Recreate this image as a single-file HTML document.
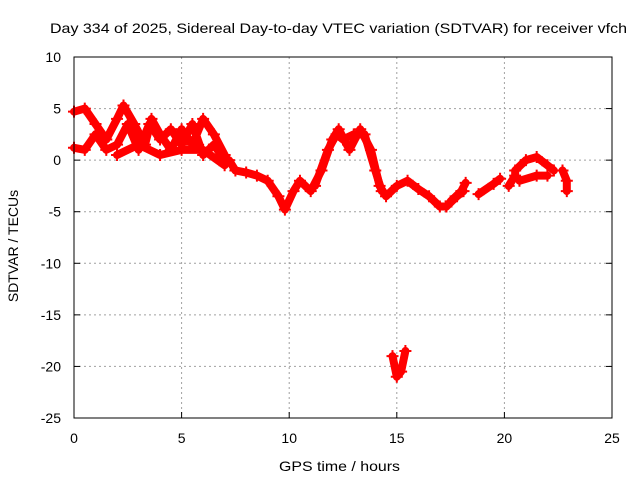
<!DOCTYPE html>
<html><head><meta charset="utf-8"><style>
body{margin:0;background:#fff}
svg{font-family:"Liberation Sans",sans-serif;font-size:14px}
</style></head><body>
<svg id="chart" width="640" height="480" viewBox="0 0 640 480">
<rect width="640" height="480" fill="#fff"/>
<text x="50" y="33" textLength="577" lengthAdjust="spacingAndGlyphs">Day 334 of 2025, Sidereal Day-to-day VTEC variation (SDTVAR) for receiver vfch</text>
<g id="grid"></g>
<g id="ticks"></g>
<g id="series"></g>
<rect x="74" y="57" width="538" height="361" fill="none" stroke="#000" stroke-width="1"/>
<text x="279" y="471" textLength="121" lengthAdjust="spacingAndGlyphs">GPS time / hours</text>
<text transform="translate(18,246) rotate(-90)" text-anchor="middle">SDTVAR / TECUs</text>
</svg>
<script>
const xTicks=[0,5,10,15,20,25];
const yTicks=[10,5,0,-5,-10,-15,-20,-25];
const trackA=[[0,4.7],[0.5,5],[1,3.5],[1.5,2],[2,4],[2.3,5.3],[2.8,3.5],[3.3,1.5],[3.6,4],[4,2.5],[4.5,1],[5,3],[5.5,1.5],[6,4],[6.5,2.5],[7,0.5]];
const trackB=[[0,1.2],[0.5,1],[1,2.5],[1.5,1],[2,1.5],[2.5,3.5],[3,1],[3.5,3.5],[4,2],[4.5,3],[5,1.5],[5.5,3.5],[6,0.5],[6.5,1.5],[7,0]];
const trackC=[[2,0.5],[3,1.5],[4,0.5],[5,1],[6,1],[7,-0.5]];
const trackMain=[[7.2,0],[7.5,-1],[8,-1.2],[8.5,-1.5],[9,-2],[9.5,-3.5],[9.8,-4.8],[10.2,-3],[10.5,-2],[11,-3],[11.5,-1],[12,2],[12.3,3],[12.8,1],[13.3,3],[13.8,1],[14.2,-2.5],[14.5,-3.5],[15,-2.5],[15.5,-2],[16,-2.8],[16.5,-3.5],[17,-4.5],[17.3,-4.5]];
const trackMain2=[[11.2,-2.5],[11.8,1],[12.2,2.5],[12.5,2],[13,2.5],[13.5,2.5],[14,-1],[14.3,-3]];
const trackLate1=[[17.5,-4],[18,-3],[18.2,-2.2]];
const trackLate2=[[17.3,-4.5],[17.8,-3.5],[18.1,-3]];
const trackLate3=[[18.8,-3.3],[19.5,-2.3],[19.8,-1.8]];
const trackLate4=[[20.2,-2.5],[20.5,-1.5],[20.5,-1],[21,0],[21.5,0.3],[22,-0.5],[22.3,-1]];
const trackLate5=[[20.7,-2],[21.5,-1.5],[22,-1.5]];
const trackLate6=[[22.7,-1],[22.9,-2],[22.9,-3]];
const trackDip=[[14.8,-19],[15,-21],[15.2,-20.5],[15.4,-18.5]];
const tracks=[trackA,trackB,trackC,trackMain,trackMain2,trackLate1,trackLate2,trackLate3,trackLate4,trackLate5,trackLate6,trackDip];
const NS="http://www.w3.org/2000/svg";
const X=h=>74+h*538/25, Y=v=>57+(10-v)*361/35;
const grid=document.getElementById('grid'),ticks=document.getElementById('ticks'),ser=document.getElementById('series');
function mk(tag,attrs,parent){const e=document.createElementNS(NS,tag);for(const k in attrs)e.setAttribute(k,attrs[k]);parent.appendChild(e);return e;}
xTicks.forEach(t=>{
 if(t>0&&t<25){const g=mk('line',{x1:X(t),x2:X(t),y1:57,y2:418,stroke:'#a0a0a0','stroke-dasharray':'2,3'},grid);
 
 }
 const tl=mk('line',{x1:X(t),x2:X(t),y1:418,y2:412,stroke:'#000'},ticks);
 
 
 const tx=mk('text',{x:X(t),y:443,'text-anchor':'middle'},ticks);tx.textContent=t;
 
 
});
yTicks.forEach(t=>{
 if(t<10&&t>-25){const g=mk('line',{x1:74,x2:612,y1:Y(t),y2:Y(t),stroke:'#a0a0a0','stroke-dasharray':'2,3'},grid);
 
 }
 const tl=mk('line',{x1:74,x2:80,y1:Y(t),y2:Y(t),stroke:'#000'},ticks);
 
 
 const tr=mk('line',{x1:606,x2:612,y1:Y(t),y2:Y(t),stroke:'#000'},ticks);
 
 
 const tx=mk('text',{x:61,y:Y(t)+5,'text-anchor':'end'},ticks);tx.textContent=t;
 
 
});
tracks.forEach(tr=>{
 const p=mk('polyline',{points:tr.map(d=>X(d[0])+','+Y(d[1])).join(' '),fill:'none',stroke:'#f00','stroke-width':8,'stroke-linejoin':'round','stroke-linecap':'round'},ser);
 
 
 tr.forEach(d=>{
  const m=mk('path',{d:`M${X(d[0])-6},${Y(d[1])}h12M${X(d[0])},${Y(d[1])-6}v12`,stroke:'#f00','stroke-width':2},ser);
  
  
 });
});
</script>
</body></html>
